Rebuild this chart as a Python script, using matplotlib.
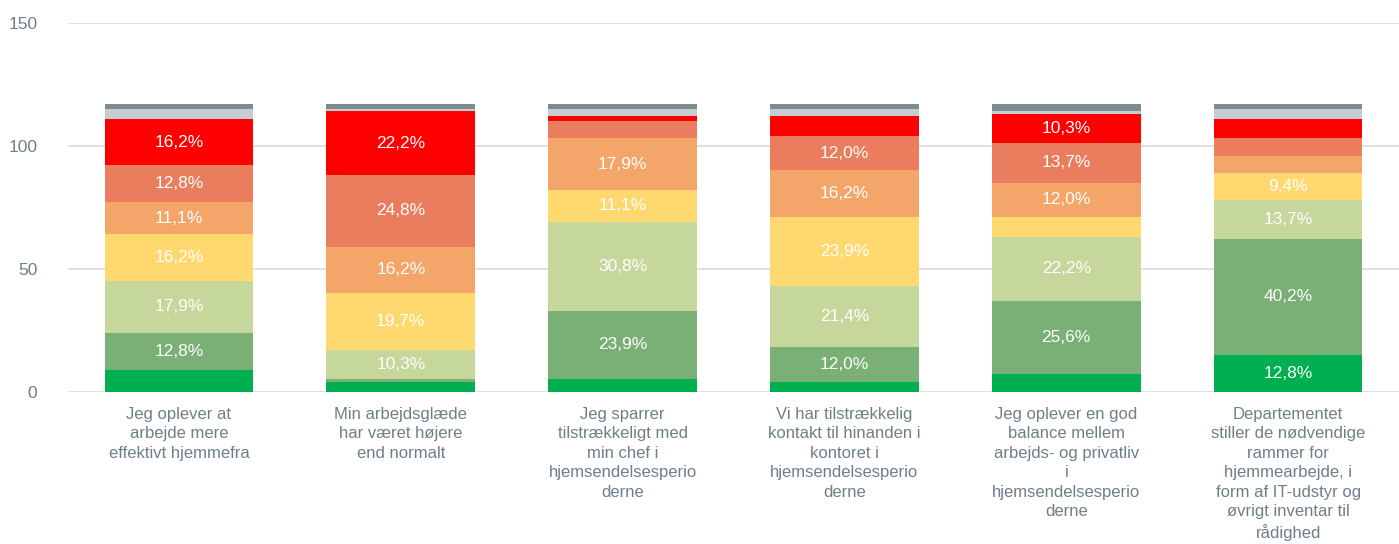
import matplotlib.pyplot as plt
import numpy as np

plt.rcParams['font.family'] = ['Liberation Sans', 'DejaVu Sans']

# Questions (x tick labels, wrapped like the original)
categories = [
    "Jeg oplever at\narbejde mere\neffektivt hjemmefra",
    "Min arbejdsglæde\nhar været højere\nend normalt",
    "Jeg sparrer\ntilstrækkeligt med\nmin chef i\nhjemsendelsesperio\nderne",
    "Vi har tilstrækkelig\nkontakt til hinanden i\nkontoret i\nhjemsendelsesperio\nderne",
    "Jeg oplever en god\nbalance mellem\narbejds- og privatliv\ni\nhjemsendelsesperio\nderne",
    "Departementet\nstiller de nødvendige\nrammer for\nhjemmearbejde, i\nform af IT-udstyr og\nøvrigt inventar til\nrådighed",
]

# Answer counts per category (117 respondents), bottom to top
level_1 = [9, 4, 5, 4, 7, 15]
level_2 = [15, 1, 28, 14, 30, 47]
level_3 = [21, 12, 36, 25, 26, 16]
level_4 = [19, 23, 13, 28, 8, 11]
level_5 = [13, 19, 21, 19, 14, 7]
level_6 = [15, 29, 7, 14, 16, 7]
level_7 = [19, 26, 2, 8, 12, 8]
no_answer = [4, 1, 3, 3, 1, 4]
not_relevant = [2, 2, 2, 2, 3, 2]

N_RESP = 117
LABEL_MIN = 11  # only label segments with at least this many answers

series = [level_1, level_2, level_3, level_4, level_5, level_6, level_7,
          no_answer, not_relevant]
colors = ["#00B050", "#7AAF76", "#C5D79B", "#FFD96F", "#F4A66A",
          "#E97D5E", "#FF0000", "#C5CDD1", "#7B8B91"]

# axes box in pixels: 0 at y=391.7, 2.46 px per unit
y0 = 391.7
ytop = y0 - 150 * 2.46
fig = plt.figure(figsize=(13.99, 5.44), dpi=100)
ax = fig.add_axes([68 / 1399, 1 - y0 / 544, 1 - 68 / 1399, (y0 - ytop) / 544])

x = np.arange(len(categories))
bottom = np.zeros(len(categories))
for vals, col in zip(series, colors):
    vals = np.array(vals, dtype=float)
    ax.bar(x, vals, bottom=bottom, width=0.67, color=col, zorder=3)
    for xi, v, b in zip(x, vals, bottom):
        if v >= LABEL_MIN:
            pct = ("%.1f%%" % (v / N_RESP * 100)).replace(".", ",")
            ax.text(xi, b + v / 2, pct, ha="center", va="center",
                    color="white", fontsize=12.5, zorder=4)
    bottom += vals

ax.set_xlim(-0.5, len(categories) - 0.5)
ax.set_ylim(0, 150)
ax.set_yticks([0, 50, 100, 150])
ax.yaxis.grid(True, color="#D9D9D9", linewidth=1.2, zorder=0)
for s in ax.spines.values():
    s.set_visible(False)

ax.set_xticks(x)
ax.set_xticklabels(categories, fontsize=12, color="#6F7F88", linespacing=1.37)
ax.tick_params(axis="x", length=0, pad=11)
ax.tick_params(axis="y", length=0, pad=22, labelsize=12.5, labelcolor="#6F7F88")

fig.savefig("out.png", dpi=100)
